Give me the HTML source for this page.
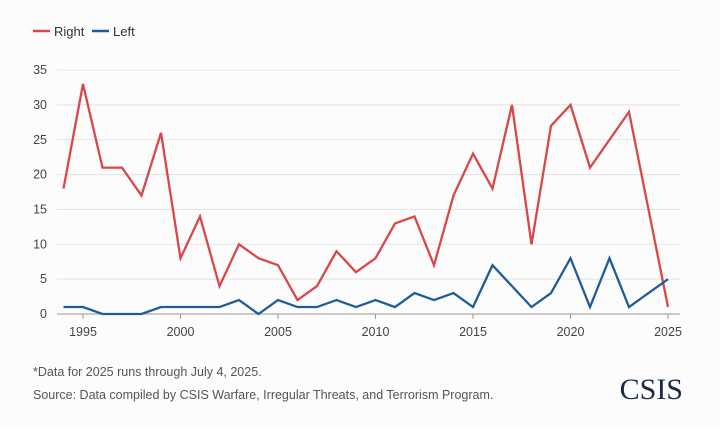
<!DOCTYPE html>
<html><head><meta charset="utf-8"><style>
body{margin:0;background:#fff;font-family:"Liberation Sans",sans-serif;}
svg text{font-family:"Liberation Sans",sans-serif;}
</style></head><body>
<svg width="720" height="427" viewBox="0 0 720 427">
<rect width="720" height="427" fill="#fcfcfc"/>
<g>
<line x1="33" y1="31" x2="50" y2="31" stroke="#d9474a" stroke-width="2.5"/>
<text x="54" y="36" font-size="13" fill="#333">Right</text>
<line x1="92" y1="31" x2="109" y2="31" stroke="#1f5c99" stroke-width="2.5"/>
<text x="113" y="36" font-size="13" fill="#333">Left</text>
</g>
<g id="grid"></g><g id="xt"></g><g id="series"></g>
<text x="33" y="376" font-size="12.5" fill="#555">*Data for 2025 runs through July 4, 2025.</text>
<text x="33" y="399" font-size="12.5" fill="#555">Source: Data compiled by CSIS Warfare, Irregular Threats, and Terrorism Program.</text>
<text x="683" y="399" font-size="30" text-anchor="end" fill="#1a2b4a" font-family="Liberation Serif" style="font-family:'Liberation Serif',serif">CSIS</text>
</svg>
<script>
const years=[1994,1995,1996,1997,1998,1999,2000,2001,2002,2003,2004,2005,2006,2007,2008,2009,2010,2011,2012,2013,2014,2015,2016,2017,2018,2019,2020,2021,2022,2023,2024,2025];
const rightValues=[18,33,21,21,17,26,8,14,4,10,8,7,2,4,9,6,8,13,14,7,17,23,18,30,10,27,30,21,25,29,15,1];
const leftValues=[1,1,0,0,0,1,1,1,1,2,0,2,1,1,2,1,2,1,3,2,3,1,7,4,1,3,8,1,8,1,3,5];
const yTicks=[0,5,10,15,20,25,30,35];
const xTicks=[1995,2000,2005,2010,2015,2020,2025];
const NS="http://www.w3.org/2000/svg";
const x=v=>83+(v-1995)*19.5;
const y=v=>314-v*6.97;
function mk(t,a,p){const e=document.createElementNS(NS,t);for(const k in a)e.setAttribute(k,a[k]);p.appendChild(e);return e;}
const grid=document.getElementById('grid');
yTicks.forEach(t=>{
 const l=mk('line',{x1:57,x2:680,y1:y(t),y2:y(t),stroke:t===0?'#999':'#e3e3e3','stroke-width':1},grid);
 
 
 const tx=mk('text',{x:47,y:y(t)+4,'font-size':12.5,'text-anchor':'end',fill:'#444'},grid);
 tx.textContent=t;
 
 
});
const xt=document.getElementById('xt');
xTicks.forEach(t=>{
 mk('line',{x1:x(t),x2:x(t),y1:314,y2:319,stroke:'#999'},xt);
 const tx=mk('text',{x:x(t),y:336,'font-size':12.5,'text-anchor':'middle',fill:'#444'},xt);
 tx.textContent=t;
 
 
});
const s=document.getElementById('series');
function line(vals,color,name){
 const p=mk('polyline',{points:vals.map((v,i)=>x(years[i])+','+y(v)).join(' '),fill:'none',stroke:color,'stroke-width':2.3,'stroke-linejoin':'miter'},s);
 
 
}
line(rightValues,'#d9474a','right-line');
line(leftValues,'#1f5c99','left-line');
</script>
</body></html>
